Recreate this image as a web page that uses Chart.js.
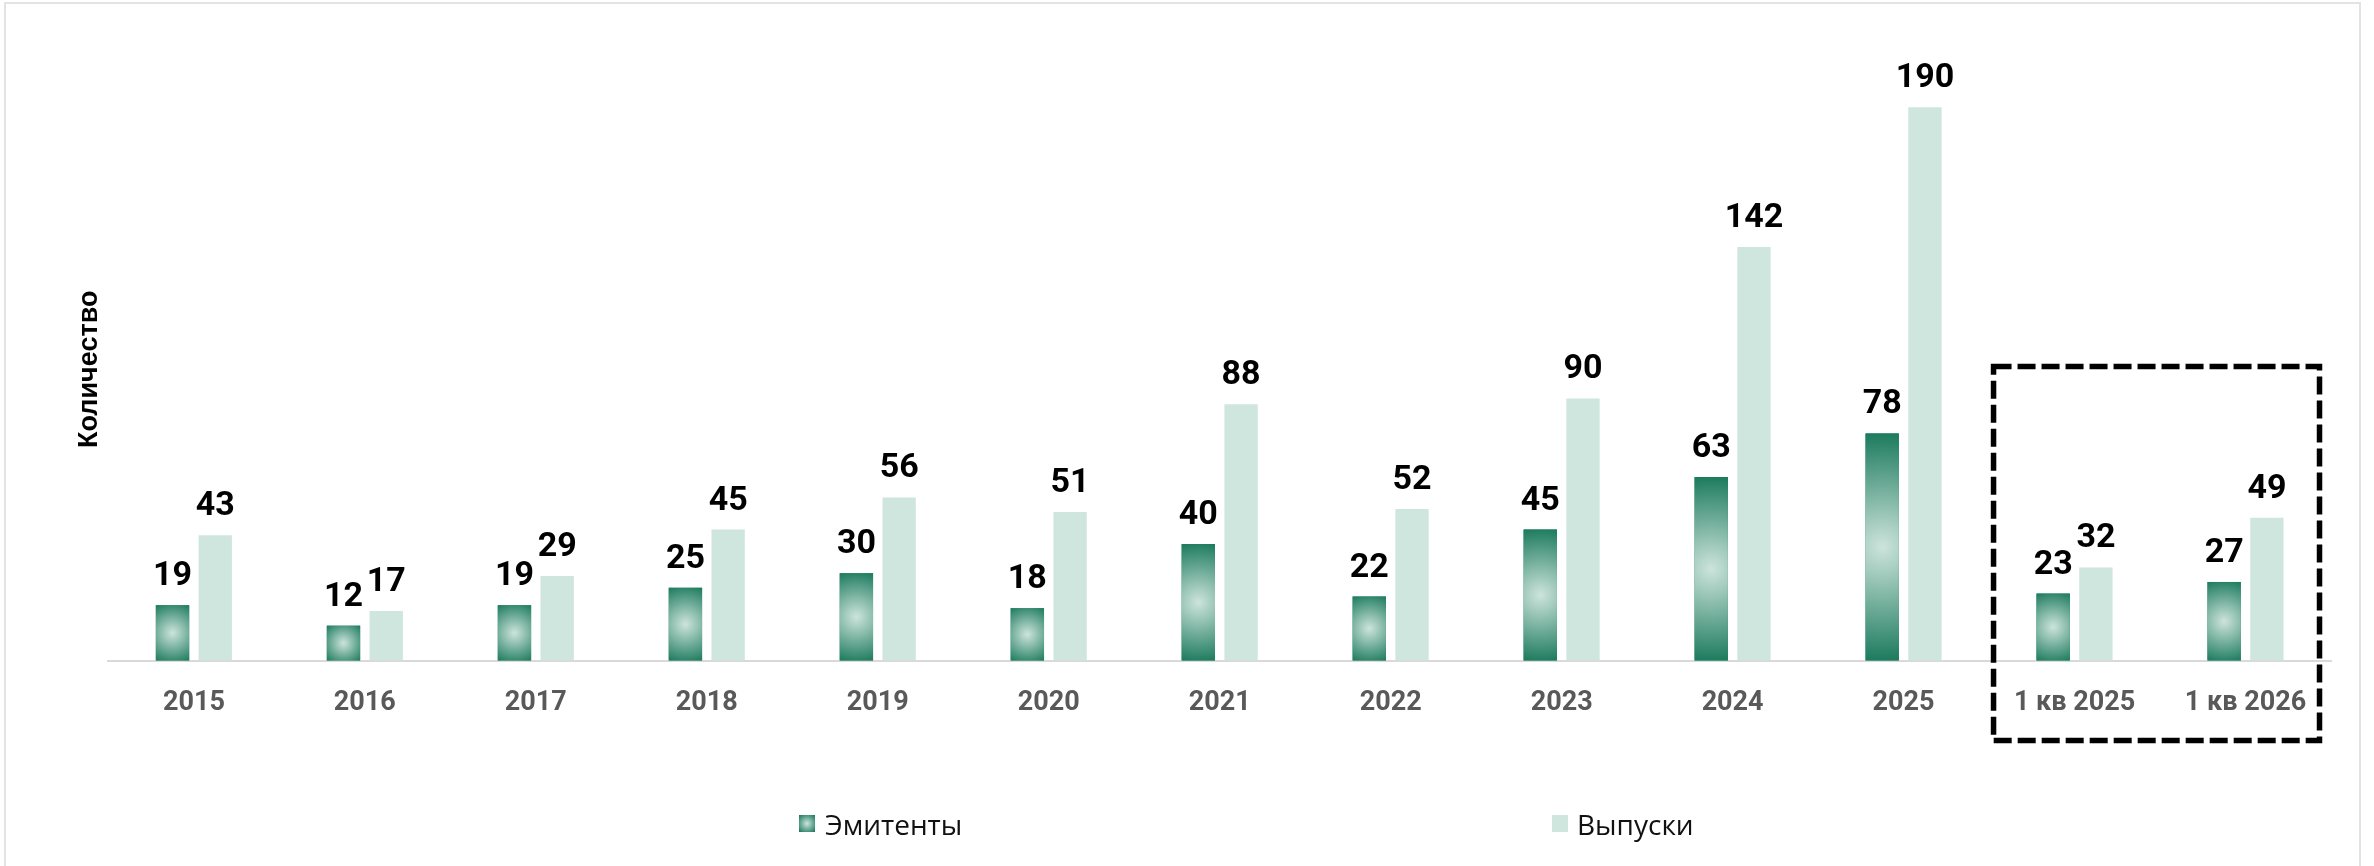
<!DOCTYPE html>
<html>
<head>
<meta charset="utf-8">
<script src="https://cdn.jsdelivr.net/npm/chart.js@4.4.1/dist/chart.umd.min.js"></script>
<style>
  html, body { margin: 0; padding: 0; background: #fff; overflow: hidden; }
  #wrap { position: relative; width: 2374px; height: 866px; }
  #frame { position: absolute; left: 4px; top: 2px; width: 2357px; height: 900px; border: 2px solid #e3e3e3; box-sizing: border-box; }
  #chart { position: absolute; left: 0; top: 0; }
  .lg { position: absolute; top: 807px; font: 28px "Open Sans", sans-serif; color: #111; line-height: 34px; }
  .lg i { position: absolute; top: 8px; width: 16px; height: 17px; }
</style>
</head>
<body>
<div id="wrap">
  <div id="frame"></div>
  <canvas id="chart" width="2374" height="866"></canvas>
  <div class="lg" style="left:799px"><i style="left:0;background:radial-gradient(circle, #cde4dc 0%, #1b7a5c 95%)"></i><span style="margin-left:26px">Эмитенты</span></div>
  <div class="lg" style="left:1552px"><i style="left:0;background:#cfe6df"></i><span style="margin-left:25px">Выпуски</span></div>
</div>
<script>
const categories = ['2015', '2016', '2017', '2018', '2019', '2020', '2021', '2022', '2023', '2024', '2025', '1 кв 2025', '1 кв 2026'];
const emitters = [19, 12, 19, 25, 30, 18, 40, 22, 45, 63, 78, 23, 27];
const issues = [43, 17, 29, 45, 56, 51, 88, 52, 90, 142, 190, 32, 49];

const darkGreen = 'rgb(27,122,92)';
const lightGreen = 'rgb(205,228,220)';
const issuesColor = 'rgb(207,230,223)';

// radial fill on the Эмитенты bars
const barGradient = {
	id: 'barGradient',
	afterDatasetDraw(chart, args) {
		if (args.index !== 0) return;
		const ctx = chart.ctx;
		args.meta.data.forEach(bar => {
			const { x, y, base, width } = bar.getProps(['x', 'y', 'base', 'width'], true);
			const top = Math.min(y, base), h = Math.abs(base - y);
			const cy = top + h / 2;
			const r = Math.sqrt((width / 2) ** 2 + (h / 2) ** 2);
			const g = ctx.createRadialGradient(x, cy, 0, x, cy, r);
			g.addColorStop(0, lightGreen);
			g.addColorStop(1, darkGreen);
			ctx.save();
			ctx.fillStyle = g;
			ctx.fillRect(x - width / 2, top, width, h);
			ctx.restore();
		});
	}
};

const valueLabels = {
	id: 'valueLabels',
	afterDatasetsDraw(chart) {
		const ctx = chart.ctx;
		ctx.save();
		ctx.font = 'bold 34px Roboto';
		ctx.fillStyle = '#000';
		ctx.textAlign = 'center';
		ctx.textBaseline = 'alphabetic';
		chart.data.datasets.forEach((ds, di) => {
			chart.getDatasetMeta(di).data.forEach((bar, i) => {
				ctx.fillText(ds.data[i], bar.x, bar.y - 20);
			});
		});
		ctx.restore();
	}
};

// dashed frame around the quarter columns
const quarterBox = {
	id: 'quarterBox',
	afterDraw(chart) {
		const xs = chart.scales.x, ys = chart.scales.y;
		const left = xs.getPixelForValue(11) - 81;
		const right = xs.getPixelForValue(12) + 74;
		const top = ys.getPixelForValue(101);
		const bottom = ys.getPixelForValue(0) + 80;
		const ctx = chart.ctx;
		ctx.save();
		ctx.strokeStyle = '#000';
		ctx.lineWidth = 5.5;
		ctx.setLineDash([18, 6]);
		ctx.strokeRect(left, top, right - left, bottom - top);
		ctx.restore();
	}
};

new Chart(document.getElementById('chart'), {
	type: 'bar',
	data: {
		labels: categories,
		datasets: [{
			label: 'Эмитенты',
			data: emitters,
			backgroundColor: darkGreen,
			categoryPercentage: 0.5,
			barPercentage: 0.78
		}, {
			label: 'Выпуски',
			data: issues,
			backgroundColor: issuesColor,
			categoryPercentage: 0.5,
			barPercentage: 0.78
		}]
	},
	options: {
		responsive: false,
		animation: false,
		layout: { padding: { left: 69, right: 43, top: 78, bottom: 121 } },
		plugins: {
			legend: { display: false },
			tooltip: { enabled: false }
		},
		scales: {
			x: {
				grid: { display: false, drawTicks: false },
				border: { color: '#d9d9d9', width: 2 },
				ticks: { color: '#595959', font: { family: 'Roboto', size: 27, weight: 'bold' }, padding: 26 }
			},
			y: {
				min: 0,
				max: 200,
				grid: { display: false, drawTicks: false },
				border: { display: false },
				ticks: { display: false },
				title: {
					display: true,
					text: 'Количество',
					color: '#000',
					font: { family: 'Liberation Sans', size: 27, weight: 'bold' },
					padding: { top: 4, bottom: 3 }
				}
			}
		}
	},
	plugins: [barGradient, valueLabels, quarterBox]
});
</script>
</body>
</html>
